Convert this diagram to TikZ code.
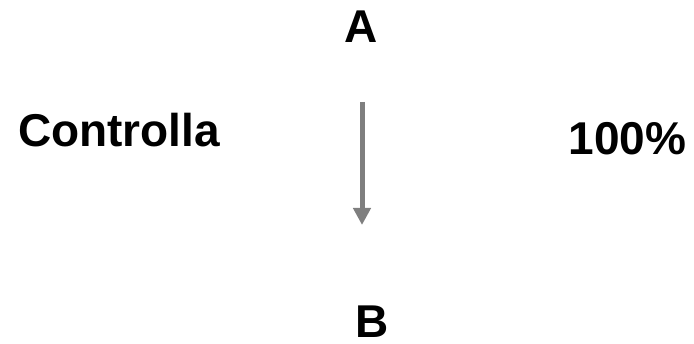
\documentclass[tikz,border=0pt]{standalone}
\usepackage{fontspec}
\setmainfont{Liberation Sans}
\usetikzlibrary{arrows.meta}
\definecolor{flowgray}{RGB}{127,127,127}

\begin{document}
\begin{tikzpicture}[
  x=1pt,y=-1pt,
  font=\fontsize{46}{50}\selectfont\bfseries,
  label/.style={anchor=base, inner sep=0pt, text=black},
  flow/.style={draw=flowgray, line width=5pt,
               -{Triangle[width=17pt,length=17pt]}}
]
  \useasboundingbox (0,0) rectangle (694,344);

  \node[label] (from) at (361.5,43) {A};
  \node[label] (to) at (372,338) {B};
  \node[label] (name) at (119,147) {Controlla};
  \node[label] (share) at (627.5,155) {100\%};

  \coordinate (flowtop) at (362,102);
  \coordinate (flowtip) at (362,225);
  \draw[flow] (flowtop) -- (flowtip);
\end{tikzpicture}
\end{document}
